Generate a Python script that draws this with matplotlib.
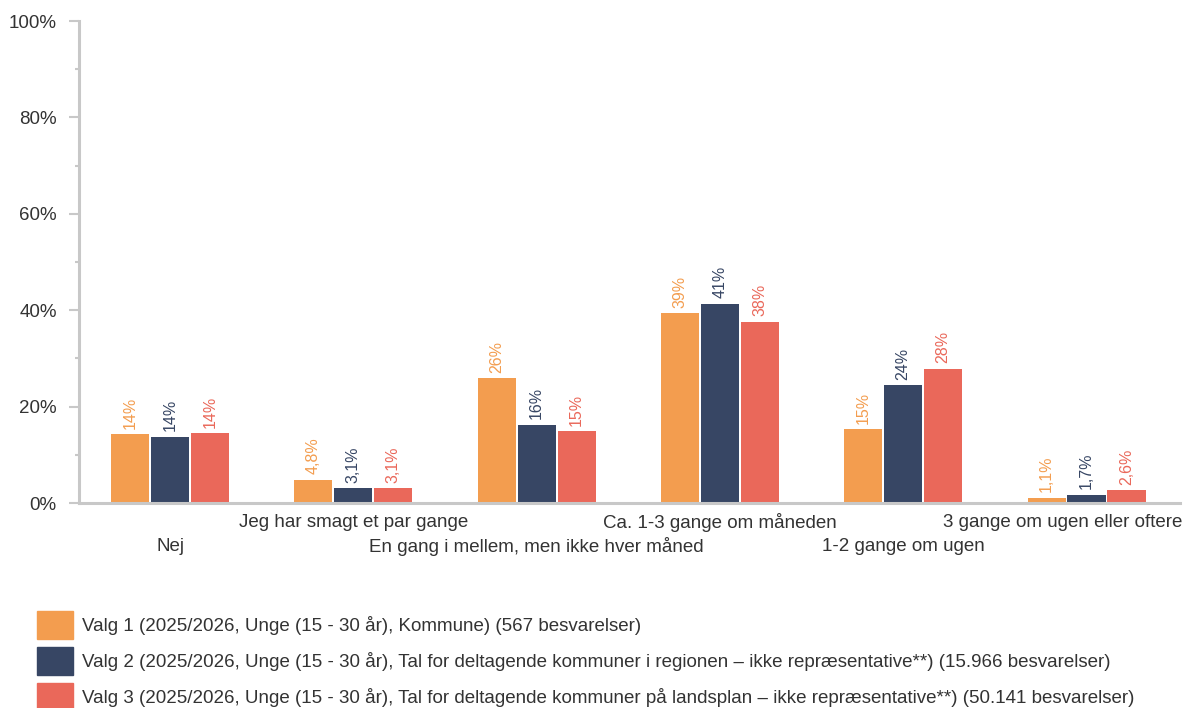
import numpy as np
import matplotlib
matplotlib.use("Agg")
import matplotlib.pyplot as plt
from matplotlib.ticker import MultipleLocator, FuncFormatter
import matplotlib.patches as mpatches

plt.rcParams['font.family'] = ['Liberation Sans', 'DejaVu Sans']

# data
kategorier = ['Nej', 'Jeg har smagt et par gange', 'En gang i mellem, men ikke hver måned',
              'Ca. 1-3 gange om måneden', '1-2 gange om ugen', '3 gange om ugen eller oftere']
valg1 = [14.3, 4.8, 25.9, 39.4, 15.3, 1.1]
valg2 = [13.7, 3.1, 16.2, 41.3, 24.4, 1.7]
valg3 = [14.5, 3.1, 14.9, 37.6, 27.8, 2.6]
etiketter1 = ['14%', '4,8%', '26%', '39%', '15%', '1,1%']
etiketter2 = ['14%', '3,1%', '16%', '41%', '24%', '1,7%']
etiketter3 = ['14%', '3,1%', '15%', '38%', '28%', '2,6%']
serie_navne = [
    'Valg 1 (2025/2026, Unge (15 - 30 år), Kommune) (567 besvarelser)',
    'Valg 2 (2025/2026, Unge (15 - 30 år), Tal for deltagende kommuner i regionen – ikke repræsentative**) (15.966 besvarelser)',
    'Valg 3 (2025/2026, Unge (15 - 30 år), Tal for deltagende kommuner på landsplan – ikke repræsentative**) (50.141 besvarelser)',
]
farver = ['#F39D4F', '#374664', '#EA685A']
TEKST = '#333333'
GRAA = '#c8c8c8'
FS = 13.5

fig = plt.figure(figsize=(11.84, 7.08), dpi=100)
ax = fig.add_axes([79 / 1184, 1 - 503 / 708, 1101 / 1184, 482 / 708])

x = np.arange(len(kategorier))
bredde = 0.208
afstand = 0.218
for i, (vals, labs) in enumerate(zip([valg1, valg2, valg3], [etiketter1, etiketter2, etiketter3])):
    pos = x + (i - 1) * afstand
    bars = ax.bar(pos, vals, width=bredde, color=farver[i], zorder=2)
    ax.bar_label(bars, labels=labs, rotation=90, padding=4, color=farver[i], fontsize=11.5)

ax.set_xlim(-0.497, 5.51)
ax.set_ylim(0, 100)
ax.yaxis.set_major_locator(MultipleLocator(20))
ax.yaxis.set_minor_locator(MultipleLocator(10))
ax.yaxis.set_major_formatter(FuncFormatter(lambda v, p: f'{v:.0f}%'))
ax.tick_params(axis='y', which='major', length=7, width=1.5, color=GRAA, pad=9,
               labelsize=FS, labelcolor=TEKST)
ax.tick_params(axis='y', which='minor', length=3, width=1.5, color=GRAA)
ax.set_xticks([])

for s in ['top', 'right']:
    ax.spines[s].set_visible(False)
for s in ['left', 'bottom']:
    ax.spines[s].set_color(GRAA)
    ax.spines[s].set_linewidth(2.2)

# x-etiketter i to rækker
trans = ax.get_xaxis_transform()
for i, navn in enumerate(kategorier):
    y = -0.04 if i % 2 == 1 else -0.09
    if i == len(kategorier) - 1:
        ax.text(1.002, y, navn, transform=ax.transAxes, ha='right', va='center',
                fontsize=FS, color=TEKST)
    else:
        ax.text(x[i], y, navn, transform=trans, ha='center', va='center',
                fontsize=FS, color=TEKST)

handles = [mpatches.Patch(color=farver[i], label=serie_navne[i]) for i in range(3)]
fig.legend(handles=handles, loc='upper left', bbox_to_anchor=(37 / 1184, 1 - 611 / 708),
           frameon=False, fontsize=FS, handlelength=1.92, handleheight=1.92,
           handletextpad=0.48, labelspacing=0.43, borderpad=0, borderaxespad=0,
           labelcolor=TEKST)

fig.savefig('out.png', dpi=100)
